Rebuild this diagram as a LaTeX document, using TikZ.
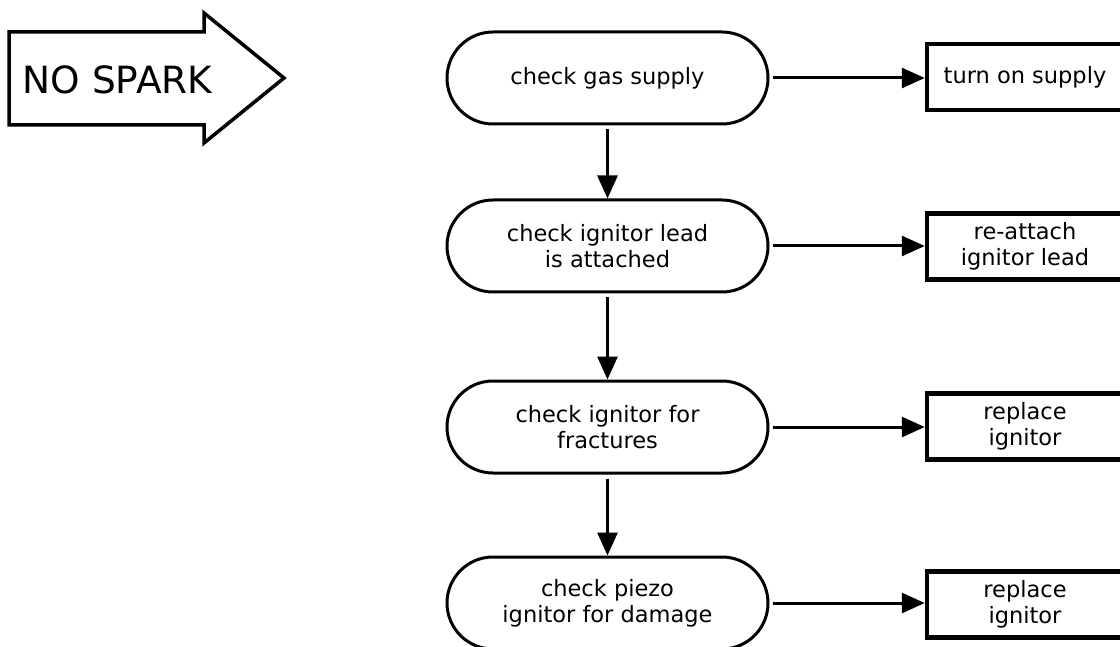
\documentclass[tikz,border=0pt]{standalone}
\usepackage{fontspec}
\setmainfont{DejaVu Sans}
\usetikzlibrary{arrows.meta,shapes.misc}
\tikzset{
  term/.style={draw, line width=3pt, rounded rectangle, minimum width=321pt, minimum height=92pt,
    inner sep=0pt, align=center, font=\fontsize{22.5}{26}\selectfont},
  actbox/.style={draw, line width=4.5pt, rectangle, minimum width=196pt, minimum height=66pt,
    inner sep=0pt, align=center, font=\fontsize{22.5}{26}\selectfont},
  flow/.style={line width=3pt, -{Triangle[length=23pt,width=20pt]}},
}
\begin{document}
\begin{tikzpicture}[x=1pt,y=-1pt]
\useasboundingbox (0,0) rectangle (1120,647);
\clip (0,0) rectangle (1120,647);
% big arrow
\draw[line width=3.5pt, line join=miter] (9,32) -- (204,32) -- (204,13) -- (284,78) -- (204,143) -- (204,125) -- (9,125) -- cycle;
\node[inner sep=0pt, font=\fontsize{37.5}{42}\selectfont] (nospark) at (117.5,79.5) {NO SPARK};
% stadium nodes
\node[term] (s1) at (607.5,78) {check gas supply};
\node[term] (s2) at (607.5,246) {check ignitor lead\\is attached};
\node[term] (s3) at (607.5,427) {check ignitor for\\fractures};
\node[term] (s4) at (607.5,603) {check piezo\\ignitor for damage};
% action boxes
\node[actbox] (b1) at (1025,77) {turn on supply};
\node[actbox] (b2) at (1025,246.5) {re-attach\\ignitor lead};
\node[actbox] (b3) at (1025,426.5) {replace\\ignitor};
\node[actbox] (b4) at (1025,604.5) {replace\\ignitor};
% vertical connectors
\draw[flow, shorten <=4pt] (s1.south) -- (s2.north);
\draw[flow, shorten <=4pt] (s2.south) -- (s3.north);
\draw[flow, shorten <=4pt] (s3.south) -- (s4.north);
% horizontal connectors
\draw[flow, shorten <=3pt] (s1.east) -- (s1.east -| b1.west);
\draw[flow, shorten <=3pt] (s2.east) -- (s2.east -| b2.west);
\draw[flow, shorten <=3pt] (s3.east) -- (s3.east -| b3.west);
\draw[flow, shorten <=3pt] (s4.east) -- (s4.east -| b4.west);
\end{tikzpicture}
\end{document}
